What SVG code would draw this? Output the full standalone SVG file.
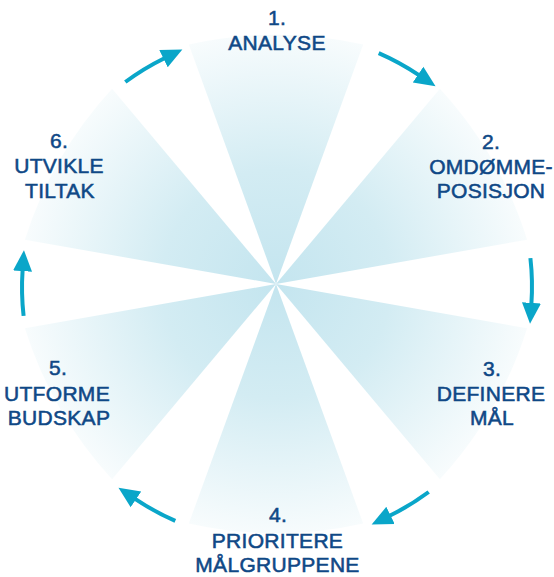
<svg xmlns="http://www.w3.org/2000/svg" width="554" height="577" viewBox="0 0 554 577">
  <defs>
    <radialGradient id="wg" gradientUnits="userSpaceOnUse" cx="276" cy="284" r="255">
      <stop offset="0" stop-color="#c4e5ef"/>
      <stop offset="0.45" stop-color="#d3ecf3"/>
      <stop offset="1" stop-color="#f8fcfd"/>
    </radialGradient>
    <marker id="ah" markerUnits="userSpaceOnUse" markerWidth="24" markerHeight="22" viewBox="0 -11 24 22" refX="1" refY="0" orient="auto">
      <path d="M0,-9.5 L21,0 L0,9.5 Z" fill="#0aa6c9"/>
    </marker>
    <style>
      .wedge { fill: url(#wg); stroke: none; }
      .lbl { font-family: "Liberation Sans", Arial, sans-serif; font-size: 21px; fill: #0f4886; stroke: #0f4886; stroke-width: 0.55px; text-anchor: middle; letter-spacing: 0.3px; }
      .arrow { fill: none; stroke: #0aa6c9; stroke-width: 4; marker-end: url(#ah); }
    </style>
  </defs>
  <rect width="554" height="577" fill="#ffffff"/>

  <g id="node1">
    <path class="wedge" d="M276,284 L188.8,44.4 A400,400 0 0 1 363.2,44.4 Z"/>
    <text class="lbl" x="277" y="25">1.<tspan x="277" y="50">ANALYSE</tspan></text>
  </g>
  <g id="node2">
    <path class="wedge" d="M276,284 L439.9,88.7 A400,400 0 0 1 527.1,239.7 Z"/>
    <text class="lbl" x="491" y="149">2.<tspan x="491" y="173.5">OMDØMME-</tspan><tspan x="491" y="198">POSISJON</tspan></text>
  </g>
  <g id="node3">
    <path class="wedge" d="M276,284 L527.1,328.3 A400,400 0 0 1 439.9,479.3 Z"/>
    <text class="lbl" x="492" y="376">3.<tspan x="491" y="400.5">DEFINERE</tspan><tspan x="492" y="425">MÅL</tspan></text>
  </g>
  <g id="node4">
    <path class="wedge" d="M276,284 L363.2,523.6 A400,400 0 0 1 188.8,523.6 Z"/>
    <text class="lbl" x="278" y="522">4.<tspan x="277.5" y="547.5">PRIORITERE</tspan><tspan x="277.5" y="572">MÅLGRUPPENE</tspan></text>
  </g>
  <g id="node5">
    <path class="wedge" d="M276,284 L112.1,479.3 A400,400 0 0 1 24.9,328.3 Z"/>
    <text class="lbl" x="58" y="375">5.<tspan x="57" y="400.5">UTFORME</tspan><tspan x="59" y="425">BUDSKAP</tspan></text>
  </g>
  <g id="node6">
    <path class="wedge" d="M276,284 L24.9,239.7 A400,400 0 0 1 112.1,88.7 Z"/>
    <text class="lbl" x="59" y="148">6.<tspan x="59" y="173">UTVIKLE</tspan><tspan x="60" y="198">TILTAK</tspan></text>
  </g>

  <g id="connectors">
    <path class="arrow" d="M378.7,53.1 A255,255 0 0 1 418.9,75.1"/>
    <path class="arrow" d="M530.4,258.1 A255,255 0 0 1 531.4,303.9"/>
    <path class="arrow" d="M428.7,492.0 A255,255 0 0 1 389.6,515.8"/>
    <path class="arrow" d="M175.3,520.9 A255,255 0 0 1 135.1,498.9"/>
    <path class="arrow" d="M23.6,315.9 A255,255 0 0 1 22.6,270.1"/>
    <path class="arrow" d="M125.3,82.0 A255,255 0 0 1 164.4,58.2"/>
  </g>
</svg>
